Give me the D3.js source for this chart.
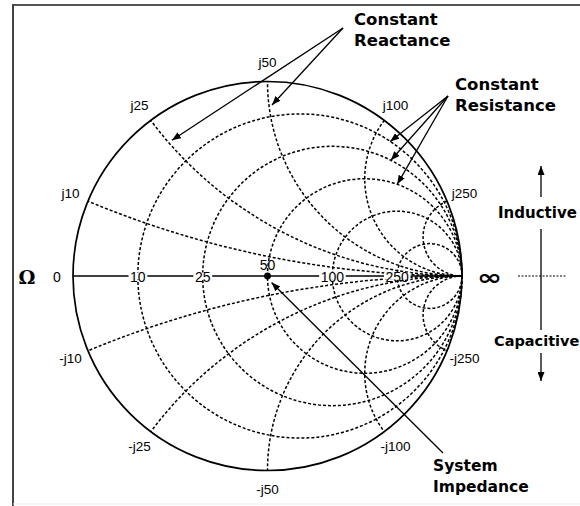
<!DOCTYPE html>
<html>
<head>
<meta charset="utf-8">
<script src="https://cdn.jsdelivr.net/npm/d3@7"></script>
<style>
  html, body { margin: 0; padding: 0; background: #fff; }
  svg { display: block; }
</style>
</head>
<body>
<script>
// ---------------- data ----------------
const z0 = 50;                                   // system impedance (ohms)
const resistanceOhms = [10, 25, 50, 100, 250];   // constant resistance circles
const resistanceLabels = ["10", "25", "50", "100", "250"];
const reactanceOhms = [10, 25, 50, 100, 250];    // constant reactance arcs (+/-)
const inductiveLabels = ["j10", "j25", "j50", "j100", "j250"];
const capacitiveLabels = ["-j10", "-j25", "-j50", "-j100", "-j250"];
const leftLabel = "0";
const rightLabel = "\u221E";
const unitLabel = "\u03A9";
// annotation arrow targets, as normalized impedance r + jx
const reactanceTargets = [{ r: 0.10, x: 0.515 }, { r: 0.131, x: 1.018 }];
const resistanceTargets = [{ r: 0.2, x: 2.25 }, { r: 0.5, x: 2.44 }, { r: 1.0, x: 2.83 }];
const systemTarget = [{ r: 1.04, x: -0.07 }];

// ---------------- layout ----------------
const W = 580, H = 506;
const cx = 267.5, cy = 276, R = 194.5;

const svg = d3.select("body").append("svg").attr("width", W).attr("height", H);

const gx = d3.scaleLinear().domain([-1, 1]).range([cx - R, cx + R]);
const gy = d3.scaleLinear().domain([-1, 1]).range([cy + R, cy - R]);
const len = d => gx(d) - gx(0);

function gamma(r, x) {
  // (z-1)/(z+1)
  const ar = r - 1, ai = x, br = r + 1, bi = x;
  const den = br * br + bi * bi;
  return [(ar * br + ai * bi) / den, (ai * br - ar * bi) / den];
}

// frame
svg.append("line").attr("x1", 13).attr("y1", 5).attr("x2", W).attr("y2", 5)
  .attr("stroke", "#555").attr("stroke-width", 2);
svg.append("line").attr("x1", 13).attr("y1", 4).attr("x2", 13).attr("y2", H)
  .attr("stroke", "#444").attr("stroke-width", 2);
svg.append("line").attr("x1", 13).attr("y1", 504).attr("x2", W).attr("y2", 504)
  .attr("stroke", "#eee").attr("stroke-width", 1);

// marker
const defs = svg.append("defs");
defs.append("marker").attr("id", "ah").attr("viewBox", "0 0 9 7")
  .attr("refX", 9).attr("refY", 3.5).attr("markerWidth", 9).attr("markerHeight", 7)
  .attr("markerUnits", "userSpaceOnUse").attr("orient", "auto")
  .append("path").attr("d", "M0,0 L9,3.5 L0,7 Z").attr("fill", "#000");
defs.append("clipPath").attr("id", "unit")
  .append("circle").attr("cx", gx(0)).attr("cy", gy(0)).attr("r", len(1));

const dash = "3,2";
const grid = svg.append("g").attr("fill", "none").attr("stroke", "#000")
  .attr("stroke-width", 1.5).attr("stroke-dasharray", dash);

// resistance circles
grid.selectAll("circle.res").data(resistanceOhms).join("circle")
  .attr("class", "res")
  .attr("cx", d => { const r = d / z0; return gx(r / (1 + r)); })
  .attr("cy", gy(0))
  .attr("r", d => { const r = d / z0; return len(1 / (1 + r)); });

// reactance arcs
const reactG = grid.append("g").attr("clip-path", "url(#unit)");
[1, -1].forEach(sign => {
  reactG.selectAll(null).data(reactanceOhms).join("circle")
    .attr("cx", gx(1))
    .attr("cy", d => gy(sign * z0 / d))
    .attr("r", d => len(z0 / d));
});

// outer circle
svg.append("circle").attr("cx", gx(0)).attr("cy", gy(0)).attr("r", len(1))
  .attr("fill", "none").attr("stroke", "#000").attr("stroke-width", 1.7);

// real axis
svg.append("line").attr("x1", gx(-1)).attr("x2", gx(1)).attr("y1", gy(0)).attr("y2", gy(0))
  .attr("stroke", "#000").attr("stroke-width", 1.5);

const numFont = "Liberation Sans, Arial, sans-serif";
const numSize = 14;

// axis labels with white backgrounds
resistanceOhms.forEach((d, i) => {
  const r = d / z0;
  const g0 = (r - 1) / (r + 1);
  if (d === z0) return;
  const g = svg.append("g");
  const t = g.append("text").attr("x", gx(g0)).attr("y", gy(0) + 1)
    .attr("text-anchor", "middle").attr("dominant-baseline", "central")
    .attr("font-family", numFont).attr("font-size", numSize).text(resistanceLabels[i]);
  const bb = t.node().getBBox();
  g.insert("rect", "text").attr("x", bb.x - 1.5).attr("y", gy(0) - 3.5)
    .attr("width", bb.width + 3).attr("height", 7).attr("fill", "#fff");
});

// system impedance point and its label
const zi = resistanceOhms.indexOf(z0);
svg.append("circle").attr("cx", gx(0)).attr("cy", gy(0)).attr("r", 3.4).attr("fill", "#000");
svg.append("text").attr("x", gx(0)).attr("y", gy(0) - 11)
  .attr("text-anchor", "middle").attr("dominant-baseline", "central")
  .attr("font-family", numFont).attr("font-size", numSize).text(resistanceLabels[zi]);

// left / unit labels
svg.append("text").attr("x", gx(-1) - 16).attr("y", gy(0) + 1)
  .attr("text-anchor", "middle").attr("dominant-baseline", "central")
  .attr("font-family", numFont).attr("font-size", numSize).text(leftLabel);
svg.append("text").attr("x", 27).attr("y", gy(0) + 1)
  .attr("text-anchor", "middle").attr("dominant-baseline", "central")
  .attr("font-family", "DejaVu Serif, serif").attr("font-weight", "bold")
  .attr("font-size", 19).text(unitLabel);

// reactance labels
reactanceOhms.forEach((d, i) => {
  [1, -1].forEach(sign => {
    const p = gamma(0, sign * d / z0);
    const ang = Math.atan2(p[1], p[0]);
    const rr = 1 + 19 / R;
    svg.append("text")
      .attr("x", gx(rr * Math.cos(ang))).attr("y", gy(rr * Math.sin(ang)))
      .attr("text-anchor", "middle").attr("dominant-baseline", "central")
      .attr("font-family", numFont).attr("font-size", 13.5)
      .text(sign > 0 ? inductiveLabels[i] : capacitiveLabels[i]);
  });
});

// infinity + dashed line on right
svg.append("text").attr("x", 477).attr("y", gy(0) + 1)
  .attr("dominant-baseline", "central")
  .attr("font-family", "DejaVu Sans, sans-serif").attr("font-weight", "bold")
  .attr("font-size", 22).attr("textLength", 25).attr("lengthAdjust", "spacingAndGlyphs")
  .text(rightLabel);
svg.append("line").attr("x1", 518).attr("x2", 566).attr("y1", gy(0)).attr("y2", gy(0))
  .attr("stroke", "#000").attr("stroke-width", 1).attr("stroke-dasharray", "2,1.5");

// inductive / capacitive
const bold = "DejaVu Sans, sans-serif";
const vx = 541;
svg.append("line").attr("x1", vx).attr("x2", vx).attr("y1", 197).attr("y2", 166)
  .attr("stroke", "#000").attr("stroke-width", 1.3).attr("marker-end", "url(#ah)");
svg.append("line").attr("x1", vx).attr("x2", vx).attr("y1", 229).attr("y2", 330)
  .attr("stroke", "#000").attr("stroke-width", 1.3);
svg.append("line").attr("x1", vx).attr("x2", vx).attr("y1", 353).attr("y2", 381)
  .attr("stroke", "#000").attr("stroke-width", 1.3).attr("marker-end", "url(#ah)");
svg.append("text").attr("x", 498).attr("y", 218).attr("font-family", bold)
  .attr("font-weight", "bold").attr("font-size", 15).text("Inductive");
svg.append("text").attr("x", 494).attr("y", 346).attr("font-family", bold)
  .attr("font-weight", "bold").attr("font-size", 14.5).text("Capacitive");

// annotations
function annot(lines, tx, ty, size, tail, targets) {
  lines.forEach((s, i) => {
    svg.append("text").attr("x", tx).attr("y", ty + i * 21)
      .attr("font-family", bold).attr("font-weight", "bold").attr("font-size", size).text(s);
  });
  targets.forEach(t => {
    const p = gamma(t.r, t.x);
    svg.append("line").attr("x1", tail[0]).attr("y1", tail[1])
      .attr("x2", gx(p[0])).attr("y2", gy(p[1]))
      .attr("stroke", "#000").attr("stroke-width", 1.3).attr("marker-end", "url(#ah)");
  });
}
annot(["Constant", "Reactance"], 354, 25, 16.5, [343, 28], reactanceTargets);
annot(["Constant", "Resistance"], 455, 90, 16.5, [448, 96], resistanceTargets);
annot(["System", "Impedance"], 433, 471, 15.5, [443, 453], systemTarget);
</script>
</body>
</html>
